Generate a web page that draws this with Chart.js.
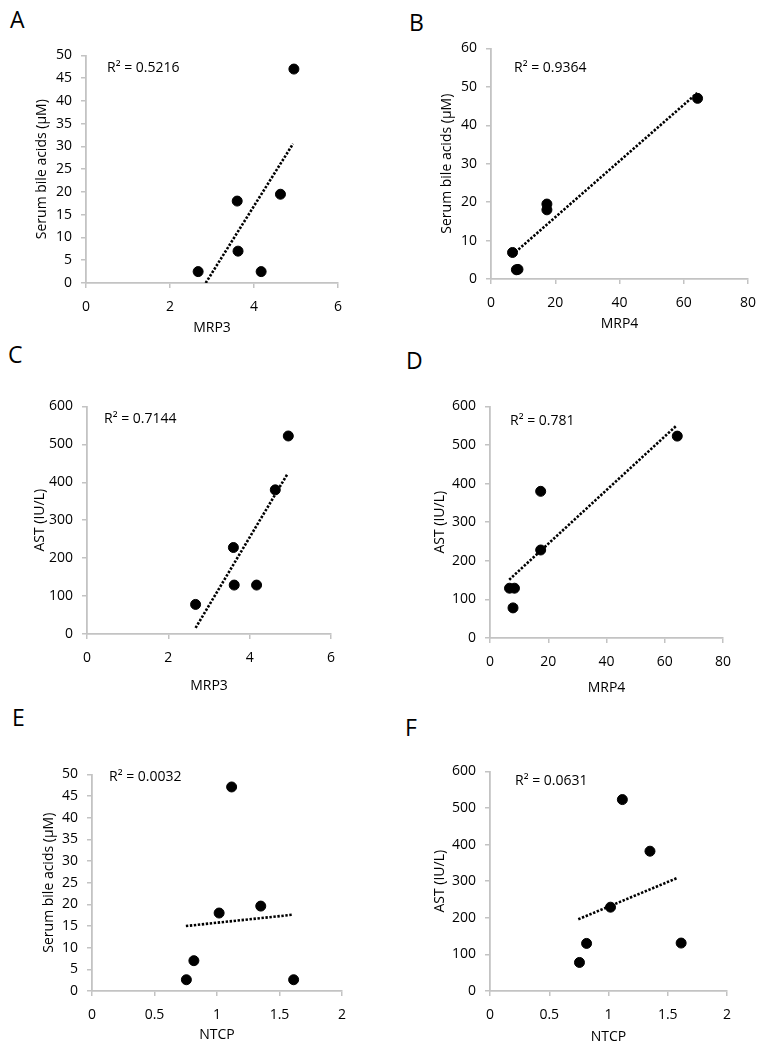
<!DOCTYPE html>
<html><head><meta charset="utf-8">
<script src="https://cdn.jsdelivr.net/npm/chart.js@4.4.1/dist/chart.umd.min.js"></script>
<style>
html,body{margin:0;padding:0;background:#fff;}
body{width:765px;height:1050px;position:relative;overflow:hidden;font-family:"Open Sans",sans-serif;}
canvas{position:absolute;}
.lbl{position:absolute;font-size:23px;line-height:23px;color:#000;font-family:"Open Sans",sans-serif;}
</style></head><body>
<div class="lbl" style="left:10px;top:8px">A</div>
<div class="lbl" style="left:409px;top:11px">B</div>
<div class="lbl" style="left:8px;top:343px">C</div>
<div class="lbl" style="left:406px;top:349px">D</div>
<div class="lbl" style="left:12px;top:706px">E</div>
<div class="lbl" style="left:405px;top:716px">F</div>
<canvas id="cA"></canvas><canvas id="cB"></canvas>
<canvas id="cC"></canvas><canvas id="cD"></canvas>
<canvas id="cE"></canvas><canvas id="cF"></canvas>
<script>
// ---- data ----
const mrp3 = [2.67, 3.60, 3.62, 4.17, 4.63, 4.95];
const mrp4 = [7.9, 17.4, 6.7, 8.4, 17.4, 64.3];
const ntcp = [0.755, 1.017, 0.815, 1.613, 1.35, 1.117];
const sbaByMrp3 = [2.5, 18, 7, 2.5, 19.5, 47];
const astByMrp3 = [78, 228, 129, 129, 380, 522];
const sbaByMrp4 = [2.4, 18, 6.9, 2.5, 19.5, 47];
const astByMrp4 = [78, 228, 129, 129, 380, 523];
const sbaByNtcp = [2.6, 18, 7, 2.6, 19.6, 47.1];
const astByNtcp = [78, 229, 130, 131, 382, 523];

const trendA_x = [2.85, 4.93], trendA_y = [0, 30.6];
const trendB_x = [7.6, 64.2], trendB_y = [7.0, 48.4];
const trendC_x = [2.67, 4.93], trendC_y = [16, 422];
const trendD_x = [6.6, 64.0], trendD_y = [151, 550];
const trendE_x = [0.751, 1.603], trendE_y = [15.0, 17.6];
const trendF_x = [0.745, 1.582], trendF_y = [196, 309];

const r2A = "R² = 0.5216", r2B = "R² = 0.9364", r2C = "R² = 0.7144";
const r2D = "R² = 0.781", r2E = "R² = 0.0032", r2F = "R² = 0.0631";

const xTicksMRP3 = [0, 2, 4, 6];
const xTicksMRP4 = [0, 20, 40, 60, 80];
const xTicksNTCP = [0, 0.5, 1, 1.5, 2];
const yTicksSBA50 = [0, 5, 10, 15, 20, 25, 30, 35, 40, 45, 50];
const yTicksSBA60 = [0, 10, 20, 30, 40, 50, 60];
const yTicksAST = [0, 100, 200, 300, 400, 500, 600];

const SBA_TITLE = "Serum bile acids (µM)";
const AST_TITLE = "AST (IU/L)";

// ---- helpers ----
const zip = (xs, ys) => xs.map((x, i) => ({x: x, y: ys[i]}));
const FONT = '"Open Sans", sans-serif';
const AX = '#c3c3c3';

const textPlugin = {
  id: 'paneltext',
  afterDatasetsDraw(chart, args, o) {
    const ctx = chart.ctx, a = chart.chartArea;
    ctx.save();
    ctx.fillStyle = '#000';
    ctx.font = '14px ' + FONT;
    ctx.textBaseline = 'middle';
    ctx.textAlign = 'left';
    ctx.fillText(o.r2, a.left + o.r2dx, a.top + o.r2dy);
    ctx.textAlign = 'center';
    ctx.fillText(o.xTitle, (a.left + a.right) / 2, o.xTitleY);
    ctx.translate(o.yTitleX, (a.top + a.bottom) / 2);
    ctx.rotate(-Math.PI / 2);
    ctx.fillText(o.yTitle, 0, 0);
    ctx.restore();
  }
};

function panel(id, rect, xs, ys, tx, ty, xTicks, yTicks, xTitle, yTitle, r2, r2dx, r2dy, yTitleX, xTitleY) {
  const [L, T, R, B] = rect;
  const YW = 90, XH = 70, PT = 15, PR = 25;
  const cl = L - YW, ct = T - PT;
  const w = (R - L) + YW + PR, h = (B - T) + PT + XH;
  const cv = document.getElementById(id);
  cv.width = w; cv.height = h;
  cv.style.left = cl + 'px'; cv.style.top = ct + 'px';
  cv.style.width = w + 'px'; cv.style.height = h + 'px';
  const fmt = v => String(+v);
  new Chart(cv, {
    type: 'scatter',
    data: {
      datasets: [
        {data: zip(xs, ys), backgroundColor: '#000', borderColor: '#000', pointRadius: 5, pointHoverRadius: 5, showLine: false, order: 1},
        {data: zip(tx, ty), showLine: true, borderColor: '#000', borderWidth: 2.6, borderDash: [2.4, 1.6], pointRadius: 0, fill: false, order: 2}
      ]
    },
    options: {
      responsive: false, animation: false, devicePixelRatio: 1,
      layout: {padding: {left: 0, top: PT, right: PR, bottom: 0}},
      plugins: {
        legend: {display: false}, tooltip: {enabled: false},
        paneltext: {r2: r2, r2dx: r2dx, r2dy: r2dy, xTitle: xTitle, yTitle: yTitle, xTitleY: xTitleY - ct, yTitleX: yTitleX - cl}
      },
      scales: {
        x: {
          type: 'linear', min: xTicks[0], max: xTicks[xTicks.length - 1],
          afterFit: s => { s.height = XH; },
          afterBuildTicks: s => { s.ticks = xTicks.map(v => ({value: v})); },
          ticks: {autoSkip: false, maxRotation: 0, color: '#000', padding: 11, font: {family: FONT, size: 14}, callback: fmt},
          grid: {drawOnChartArea: false, drawTicks: true, tickLength: 5, color: AX, lineWidth: 1.5},
          border: {color: AX, width: 1.8},
          title: {display: false}
        },
        y: {
          type: 'linear', min: yTicks[0], max: yTicks[yTicks.length - 1],
          afterFit: s => { s.width = YW; },
          afterBuildTicks: s => { s.ticks = yTicks.map(v => ({value: v})); },
          ticks: {autoSkip: false, color: '#000', padding: 9, font: {family: FONT, size: 14}, callback: fmt},
          grid: {drawOnChartArea: false, drawTicks: true, tickLength: 5, color: AX, lineWidth: 1.5},
          border: {color: AX, width: 1.8},
          title: {display: false}
        }
      }
    },
    plugins: [textPlugin]
  });
}

panel('cA', [86, 53, 338, 283], mrp3, sbaByMrp3, trendA_x, trendA_y, xTicksMRP3, yTicksSBA50, 'MRP3', SBA_TITLE, r2A, 21, 13, 42, 328);
panel('cB', [491, 46, 748, 279], mrp4, sbaByMrp4, trendB_x, trendB_y, xTicksMRP4, yTicksSBA60, 'MRP4', SBA_TITLE, r2B, 23, 20, 447, 324);
panel('cC', [87, 404, 331, 634], mrp3, astByMrp3, trendC_x, trendC_y, xTicksMRP3, yTicksAST, 'MRP3', AST_TITLE, r2C, 17, 13, 40, 686);
panel('cD', [490, 404, 723, 638], mrp4, astByMrp4, trendD_x, trendD_y, xTicksMRP4, yTicksAST, 'MRP4', AST_TITLE, r2D, 20, 15, 440, 688);
panel('cE', [92, 772, 342, 991], ntcp, sbaByNtcp, trendE_x, trendE_y, xTicksNTCP, yTicksSBA50, 'NTCP', SBA_TITLE, r2E, 17, 3, 49, 1035);
panel('cF', [490, 769, 727, 991], ntcp, astByNtcp, trendF_x, trendF_y, xTicksNTCP, yTicksAST, 'NTCP', AST_TITLE, r2F, 25, 10, 440, 1037);
</script>
</body></html>
